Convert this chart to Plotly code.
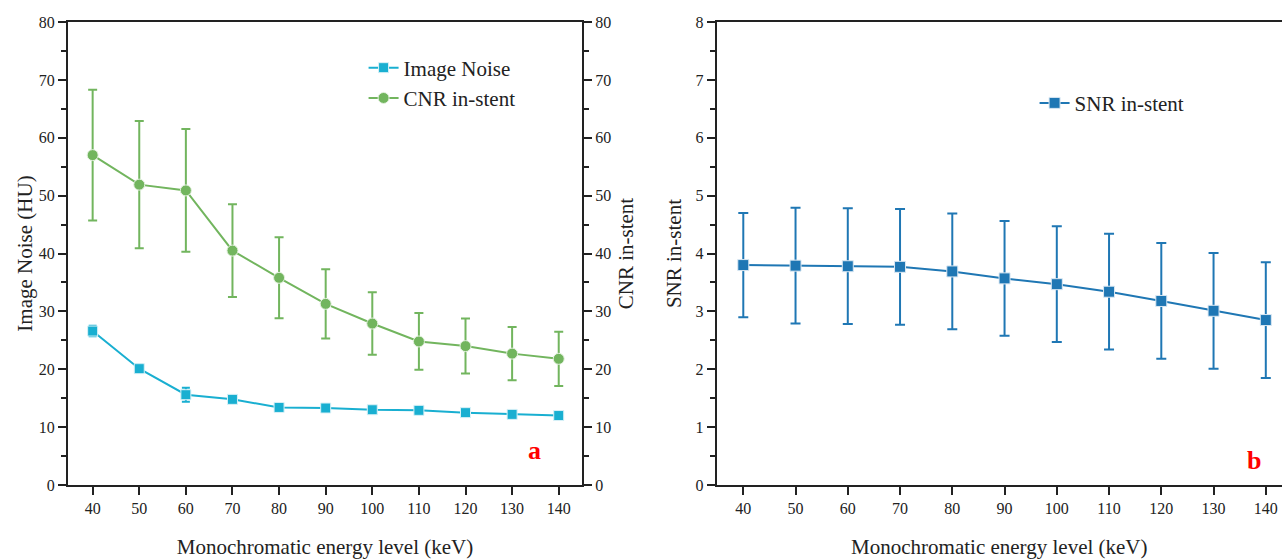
import plotly.graph_objects as go

energy = [40, 50, 60, 70, 80, 90, 100, 110, 120, 130, 140]
noise = [26.6, 20.1, 15.6, 14.8, 13.4, 13.3, 13.0, 12.9, 12.5, 12.2, 12.0]
noise_err = [0.9, 0.7, 1.2, 0.5, 0.3, 0.3, 0.3, 0.3, 0.3, 0.3, 0.3]
cnr = [57.0, 51.9, 50.9, 40.5, 35.8, 31.3, 27.9, 24.8, 24.0, 22.7, 21.8]
cnr_err = [11.3, 11.0, 10.6, 8.0, 7.0, 6.0, 5.4, 4.9, 4.75, 4.6, 4.7]
snr = [3.80, 3.79, 3.78, 3.77, 3.69, 3.57, 3.47, 3.34, 3.18, 3.01, 2.85]
snr_err = [0.9, 1.0, 1.0, 1.0, 1.0, 0.99, 1.0, 1.0, 1.0, 1.0, 1.0]
xticks = [40, 50, 60, 70, 80, 90, 100, 110, 120, 130, 140]

C_NOISE = "#19AFD1"
C_CNR = "#72B55E"
C_SNR = "#1F77B4"
FONT = "Liberation Serif, Times New Roman, serif"
AX = "#222222"

fig = go.Figure()
fig.add_trace(go.Scatter(
    x=energy, y=noise, name="Image Noise", mode="lines+markers",
    line=dict(color=C_NOISE, width=2),
    marker=dict(symbol="square", size=10, color=C_NOISE, line=dict(color="#d8f1f7", width=1)),
    error_y=dict(type="data", array=noise_err, color=C_NOISE, thickness=2, width=4),
    xaxis="x", yaxis="y", legend="legend"))
fig.add_trace(go.Scatter(
    x=energy, y=cnr, name="CNR in-stent", mode="lines+markers",
    line=dict(color=C_CNR, width=2),
    marker=dict(symbol="circle", size=11, color=C_CNR, line=dict(color="#e4f1df", width=1)),
    error_y=dict(type="data", array=cnr_err, color=C_CNR, thickness=2, width=4.5),
    xaxis="x", yaxis="y2", legend="legend"))
fig.add_trace(go.Scatter(
    x=energy, y=snr, name="SNR in-stent", mode="lines+markers",
    line=dict(color=C_SNR, width=2),
    marker=dict(symbol="square", size=11, color=C_SNR, line=dict(color="#dbe8f3", width=1)),
    error_y=dict(type="data", array=snr_err, color=C_SNR, thickness=2, width=5),
    xaxis="x2", yaxis="y3", legend="legend2"))

tickfont = dict(family=FONT, size=16, color="#222")
titlefont = dict(family=FONT, size=21, color="#222")

xcommon = dict(tickmode="array", tickvals=xticks, ticks="outside", ticklen=8, tickwidth=2,
               tickcolor=AX, showline=True, linecolor=AX, linewidth=2, mirror=True,
               showgrid=False, zeroline=False, tickfont=tickfont, automargin=False,
               title=dict(text="Monochromatic energy level (keV)", font=titlefont, standoff=24))
ycommon = dict(ticks="outside", ticklen=8, tickwidth=2, tickcolor=AX, showline=True,
               linecolor=AX, linewidth=2, showgrid=False, zeroline=False, tickfont=tickfont,
               automargin=False)

fig.update_layout(
    width=1282, height=559,
    margin=dict(l=0, r=0, t=0, b=0, autoexpand=False),
    font=dict(family=FONT),
    paper_bgcolor="white", plot_bgcolor="white",
    xaxis=dict(domain=[0.053, 0.454], range=[34.7, 145], anchor="y", **xcommon),
    yaxis=dict(domain=[0.1324, 0.9606], range=[0, 80], dtick=10, anchor="x",
               minor=dict(dtick=5, ticks="outside", ticklen=5, tickwidth=2, tickcolor=AX),
               title=dict(text="Image Noise (HU)", font=titlefont, standoff=0), **ycommon),
    yaxis2=dict(range=[0, 80], dtick=10, overlaying="y", side="right", anchor="x",
                minor=dict(dtick=5, ticks="outside", ticklen=5, tickwidth=2, tickcolor=AX),
                title=dict(text="CNR in-stent", font=titlefont, standoff=8), **ycommon),
    xaxis2=dict(domain=[0.559, 1.0], range=[34.9, 143.1], anchor="y3", **xcommon),
    yaxis3=dict(domain=[0.1324, 0.9606], range=[0, 8], dtick=1, anchor="x2",
                minor=dict(dtick=0.5, ticks="outside", ticklen=5, tickwidth=2, tickcolor=AX),
                title=dict(text="SNR in-stent", font=titlefont, standoff=8), **ycommon),
    legend=dict(x=0.2836, y=0.915, xanchor="left", yanchor="top", bgcolor="rgba(0,0,0,0)",
                font=dict(family=FONT, size=21, color="#222"), tracegroupgap=0),
    legend2=dict(x=0.807, y=0.852, xanchor="left", yanchor="top", bgcolor="rgba(0,0,0,0)",
                 font=dict(family=FONT, size=21, color="#222")),
    annotations=[
        dict(text="<b>a</b>", x=534/1282, y=1-450/559, xref="paper", yref="paper", showarrow=False,
             xanchor="center", yanchor="middle",
             font=dict(family=FONT, size=26, color="red")),
        dict(text="<b>b</b>", x=1254/1282, y=1-460/559, xref="paper", yref="paper", showarrow=False,
             xanchor="center", yanchor="middle",
             font=dict(family=FONT, size=26, color="red")),
    ],
)

fig.write_html("out.html")
